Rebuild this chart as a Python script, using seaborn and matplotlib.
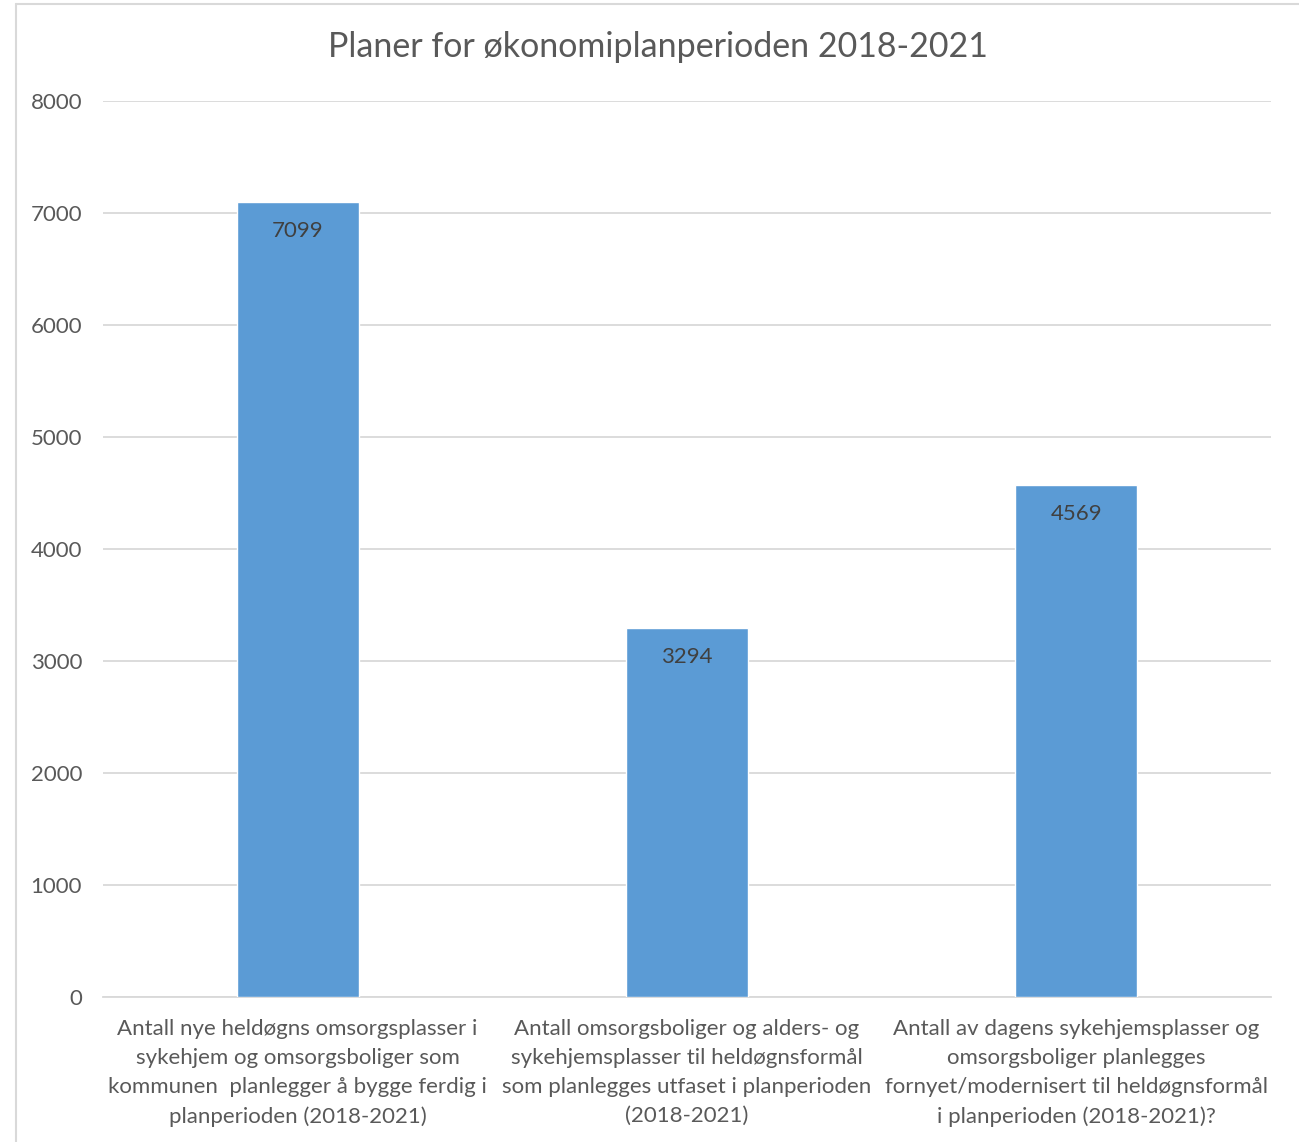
import matplotlib
matplotlib.use("Agg")
import matplotlib.pyplot as plt
import seaborn as sns
import pandas as pd
from matplotlib.lines import Line2D

# Data
categories = [
    "Antall nye heldøgns omsorgsplasser i\nsykehjem og omsorgsboliger som\nkommunen  planlegger å bygge ferdig i\nplanperioden (2018-2021)",
    "Antall omsorgsboliger og alders- og\nsykehjemsplasser til heldøgnsformål\nsom planlegges utfaset i planperioden\n(2018-2021)",
    "Antall av dagens sykehjemsplasser og\nomsorgsboliger planlegges\nfornyet/modernisert til heldøgnsformål\ni planperioden (2018-2021)?",
]
values = [7099, 3294, 4569]
y_ticks = [0, 1000, 2000, 3000, 4000, 5000, 6000, 7000, 8000]

df = pd.DataFrame({"kategori": categories, "antall": values})

sns.set_style("white")
plt.rcParams["font.family"] = ["Lato", "DejaVu Sans"]

text_color = "#595959"
fig = plt.figure(figsize=(12.99, 11.42), dpi=100)
ax = fig.add_axes([103 / 1299, 1 - 997 / 1142, 1168 / 1299, 896 / 1142])

sns.barplot(data=df, x="kategori", y="antall", color="#5B9BD5", saturation=1,
            width=0.314, ax=ax, zorder=3)

ax.set_ylim(0, 8000)
ax.set_xlim(-0.5, 2.5)
ax.set_yticks(y_ticks)
ax.set_yticklabels([str(t) for t in y_ticks], fontsize=16, color=text_color)
ax.yaxis.grid(True, color="#d9d9d9", linewidth=1.3, zorder=0)
ax.tick_params(axis="y", length=0, pad=15)
ax.tick_params(axis="x", length=0, pad=16)
plt.setp(ax.get_xticklabels(), fontsize=16, color=text_color, linespacing=1.55)
for s in ["top", "right", "left"]:
    ax.spines[s].set_visible(False)
ax.spines["bottom"].set_color("#d9d9d9")
ax.spines["bottom"].set_linewidth(1.3)
ax.set_xlabel("")
ax.set_ylabel("")

for i, v in enumerate(values):
    ax.text(i, v - 170, str(v), ha="center", va="top", fontsize=16, color="#404040", zorder=4)

fig.text(658 / 1299, 1 - 47 / 1142, "Planer for økonomiplanperioden 2018-2021",
         ha="center", va="center", fontsize=24.5, color=text_color)

# chart frame
fig.add_artist(Line2D([16 / 1299, 16 / 1299], [0, 1 - 4 / 1142], color="#d9d9d9", linewidth=1.5))
fig.add_artist(Line2D([16 / 1299, 1], [1 - 4 / 1142, 1 - 4 / 1142], color="#d9d9d9", linewidth=1.5))

fig.savefig("out.png", dpi=100)
